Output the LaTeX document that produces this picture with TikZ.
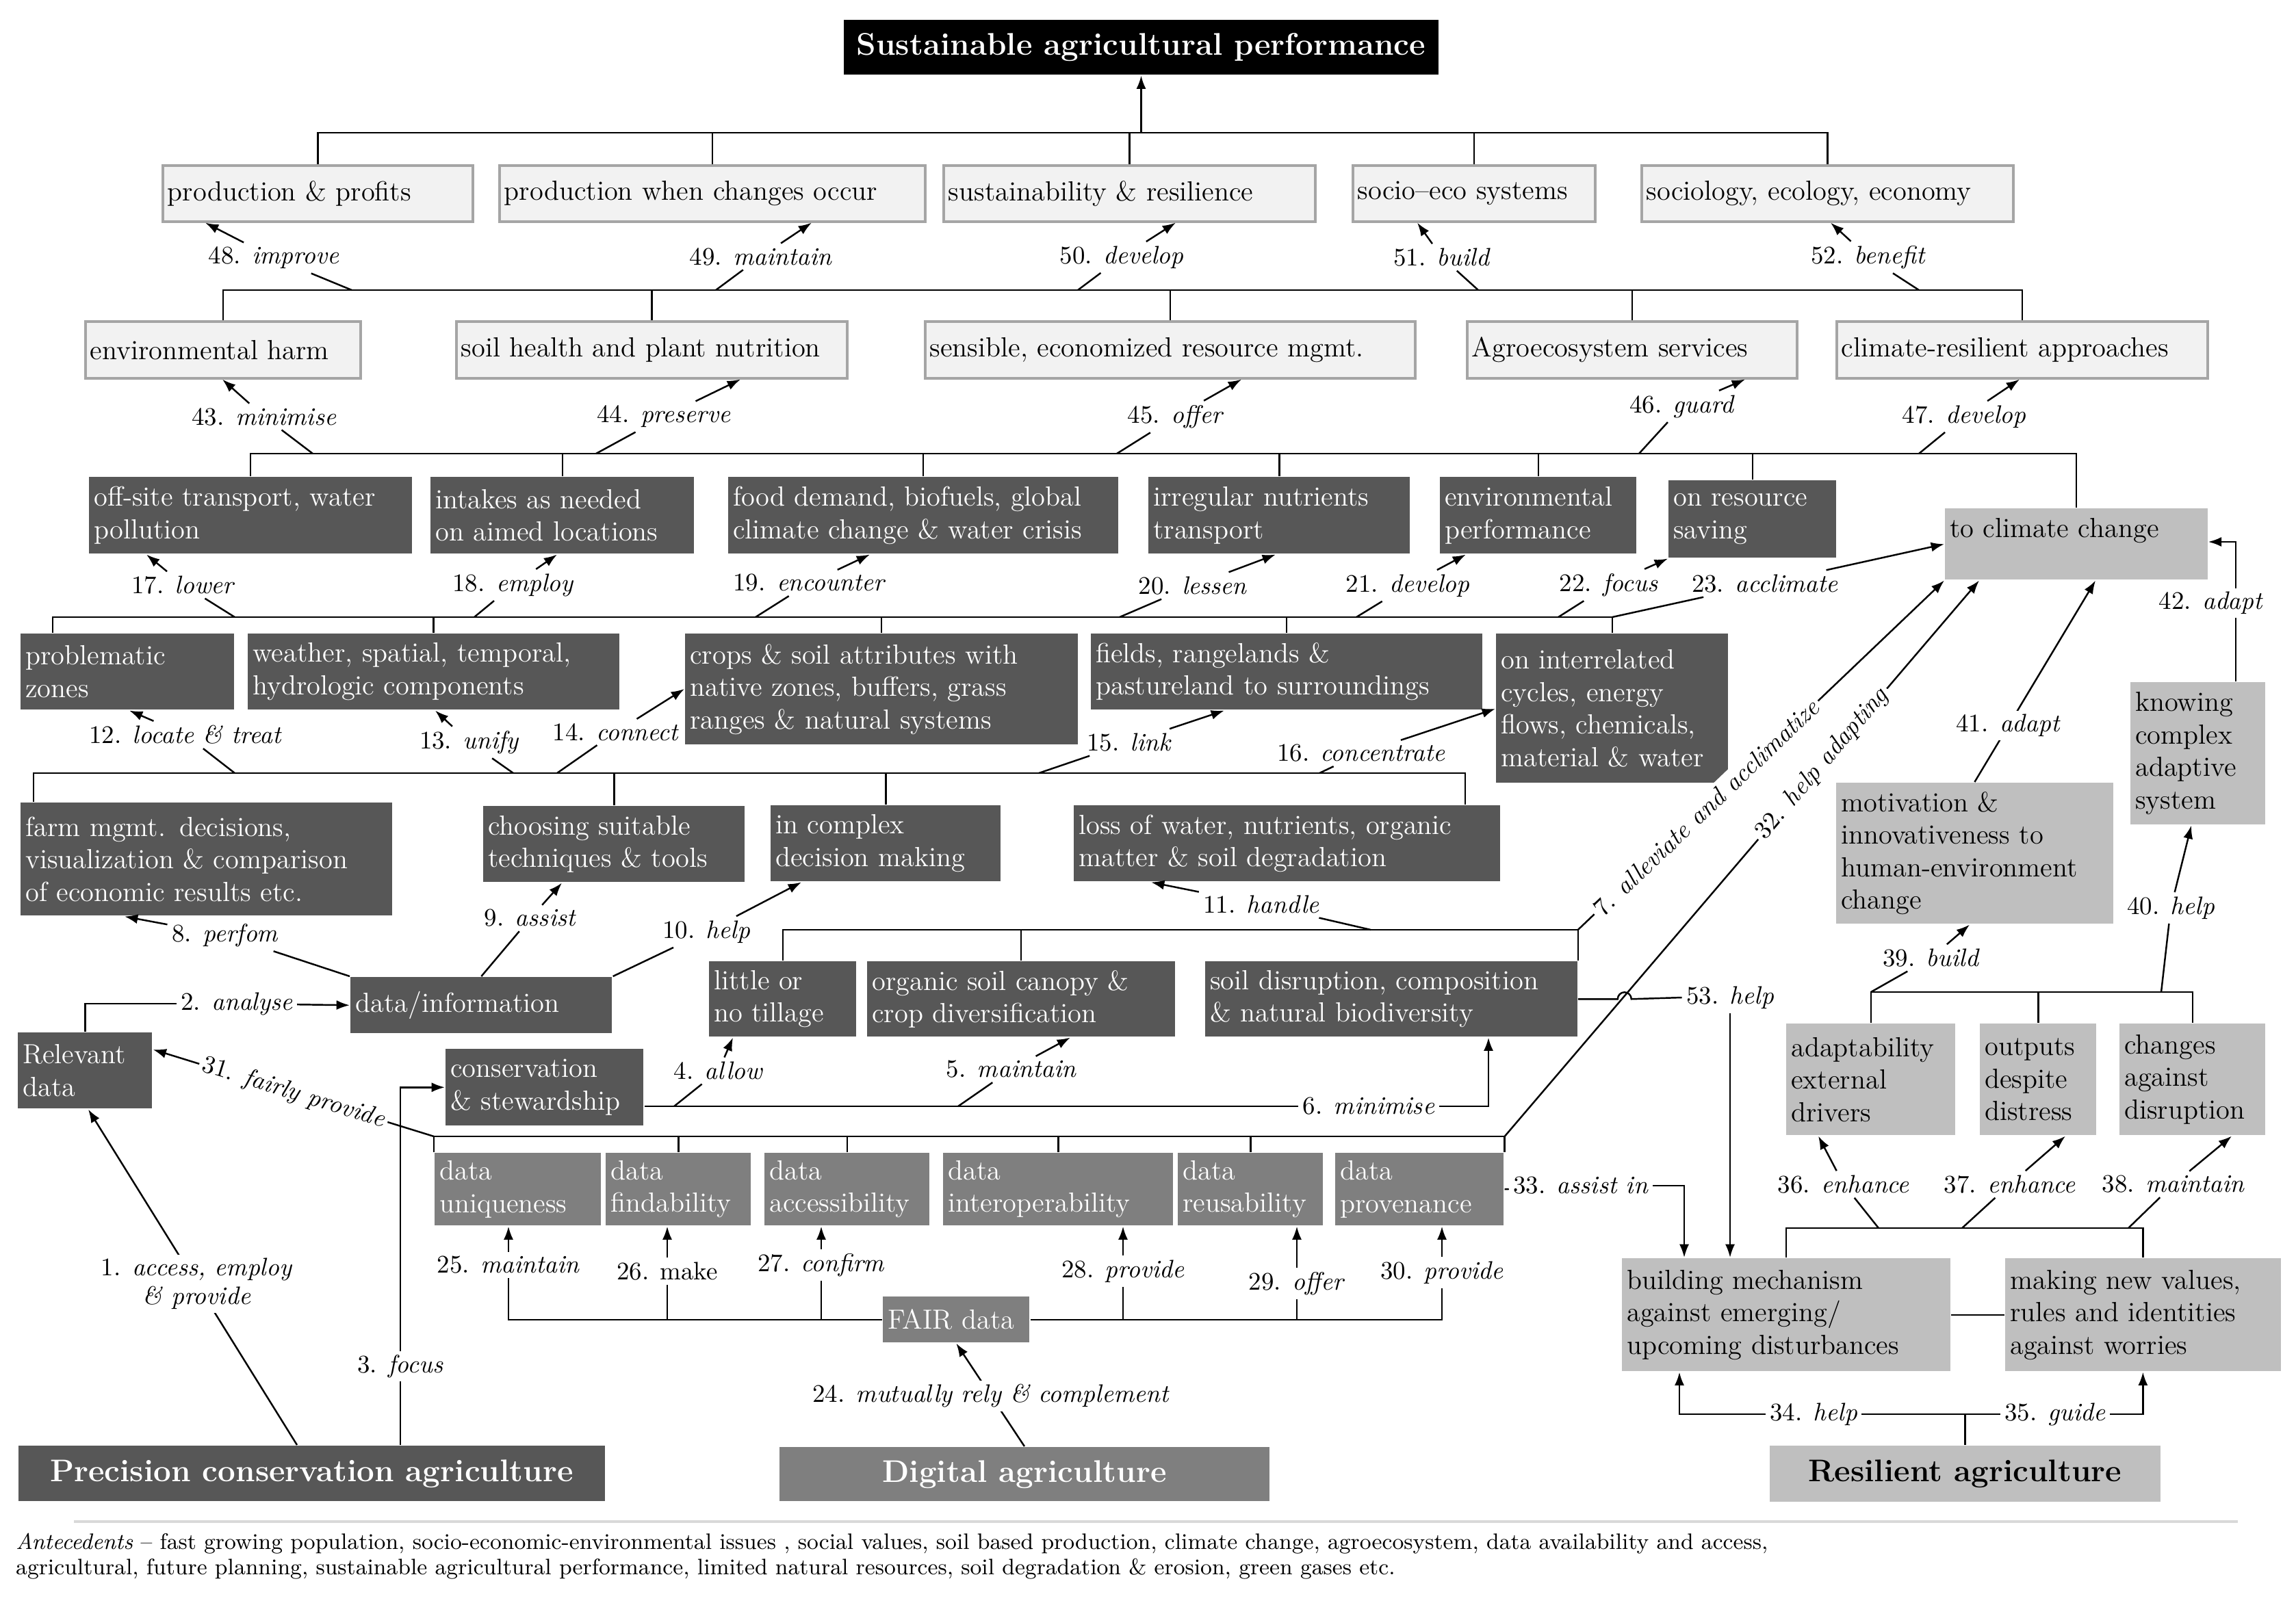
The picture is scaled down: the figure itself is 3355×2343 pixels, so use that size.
\documentclass[tikz,border=0pt]{standalone}
\usetikzlibrary{arrows.meta}
\definecolor{boxdk}{RGB}{87,87,87}
\definecolor{boxmd}{RGB}{127,127,127}
\definecolor{boxgr}{RGB}{191,191,191}
\definecolor{boxlt}{RGB}{242,242,242}
\definecolor{boxedge}{RGB}{165,165,165}
\begin{document}
\begin{tikzpicture}[x=0.01cm, y=-0.01cm, line width=0.7pt,
	bx/.style={rectangle, anchor=north west, align=left, inner xsep=0.07cm, inner ysep=0pt, font=\fontsize{11.5}{13.5}\selectfont},
	lt/.style={bx, fill=boxlt, draw=boxedge, line width=1pt},
	dk/.style={bx, fill=boxdk, text=white},
	md/.style={bx, fill=boxmd, text=white},
	gr/.style={bx, fill=boxgr},
	big/.style={anchor=north west, inner sep=0pt, align=center, font=\fontsize{13}{15}\selectfont\bfseries},
	lbl/.style={inner sep=1.5pt, font=\fontsize{10.5}{12}\selectfont},
	arr/.style={-{Latex[length=5.5pt,width=4pt]}}]
	\useasboundingbox (0,0) rectangle (3355,2343);
	%bus levels
	\coordinate (yA) at (0,194);
	\coordinate (yB) at (0,424);
	\coordinate (yC) at (0,663);
	\coordinate (yD) at (0,902);
	\coordinate (yE) at (0,1130);
	\coordinate (yF) at (0,1359);
	\coordinate (yH) at (0,1661);
	\coordinate (yI) at (0,1450);
	\coordinate (yJ) at (0,1795);
	\coordinate (yL) at (0,2067);
	%title
	\node[big, fill=black, text=white, minimum width=8.68cm, minimum height=0.8cm] (ttl) at (1232,28) {Sustainable agricultural performance};
	%row 1
	\node[lt, text width=4.39cm, minimum height=0.82cm] (pp) at (236,240) {production \& profits};
	\node[lt, text width=6.08cm, minimum height=0.82cm] (pw) at (728,240) {production when changes occur};
	\node[lt, text width=5.29cm, minimum height=0.82cm] (sr) at (1377,240) {sustainability \& resilience};
	\node[lt, text width=3.40cm, minimum height=0.82cm] (se) at (1975,240) {socio--eco systems};
	\node[lt, text width=5.29cm, minimum height=0.82cm] (sy) at (2397,240) {sociology, ecology, economy};
	%row 2
	\node[lt, text width=3.88cm, minimum height=0.83cm] (eh) at (123,468) {environmental harm};
	\node[lt, text width=5.57cm, minimum height=0.83cm] (sh) at (665,468) {soil health and plant nutrition};
	\node[lt, text width=7.02cm, minimum height=0.83cm] (rm) at (1350,468) {sensible, economized resource mgmt.};
	\node[lt, text width=4.68cm, minimum height=0.83cm] (as) at (2142,468) {Agroecosystem services};
	\node[lt, text width=5.28cm, minimum height=0.83cm] (cr) at (2682,468) {climate-resilient approaches};
	%row 3
	\node[dk, text width=4.57cm, minimum height=1.12cm] (ot) at (129,696) {off-site transport, water\\pollution};
	\node[dk, text width=3.71cm, minimum height=1.12cm] (ia) at (628,696) {intakes as needed\\on aimed locations};
	\node[dk, text width=5.55cm, minimum height=1.12cm] (fd) at (1063,696) {food demand, biofuels, global\\climate change \& water crisis};
	\node[dk, text width=3.68cm, minimum height=1.12cm] (ir) at (1677,696) {irregular nutrients\\transport};
	\node[dk, text width=2.73cm, minimum height=1.12cm] (ep) at (2103,696) {environmental\\performance};
	\node[dk, text width=2.31cm, minimum height=1.13cm] (rs) at (2437,701) {on resource\\saving};
	\node[gr, text width=3.69cm, minimum height=1.04cm] (tcc) at (2841,742) {to climate change\\~};
	%row 4
	\node[dk, text width=2.98cm, minimum height=1.11cm] (pz) at (29,925) {problematic\\zones};
	\node[dk, text width=5.28cm, minimum height=1.11cm] (ws) at (361,925) {weather, spatial, temporal,\\hydrologic components};
	\node[dk, text width=5.59cm, minimum height=1.62cm] (cr4) at (1000,925) {crops \& soil attributes with\\native zones, buffers, grass\\ranges \& natural systems};
	\node[dk, text width=5.57cm, minimum height=1.11cm] (fr) at (1593,925) {fields, rangelands \&\\pastureland to surroundings};
	\node[dk, text width=3.25cm, minimum height=2.18cm] (oi) at (2185,925) {on interrelated\\cycles, energy\\flows, chemicals,\\material \& water};
	%row 5
	\node[dk, text width=5.28cm, minimum height=1.65cm] (fm) at (29,1172) {farm mgmt. decisions,\\visualization \& comparison\\of economic results etc.};
	\node[dk, text width=3.68cm, minimum height=1.11cm] (ct) at (705,1177) {choosing suitable\\techniques \& tools};
	\node[dk, text width=3.22cm, minimum height=1.11cm] (dm) at (1125,1176) {in complex\\decision making};
	\node[dk, text width=6.08cm, minimum height=1.11cm] (lw) at (1568,1176) {loss of water, nutrients, organic\\matter \& soil degradation};
	%row 6
	\node[dk, text width=3.68cm, minimum height=0.82cm] (di) at (511,1427) {data/information};
	\node[dk, text width=2.01cm, minimum height=1.10cm] (nt) at (1035,1404) {little or\\no tillage};
	\node[dk, text width=4.35cm, minimum height=1.10cm] (oc) at (1266,1404) {organic soil canopy \&\\crop diversification};
	\node[dk, text width=5.29cm, minimum height=1.10cm] (sd) at (1760,1404) {soil disruption, composition\\\& natural biodiversity};
	\node[dk, text width=1.82cm, minimum height=1.11cm] (rd) at (25,1508) {Relevant\\data};
	\node[dk, text width=2.75cm, minimum height=1.12cm] (cs) at (650,1532) {conservation\\\& stewardship};
	%row 7
	\node[md, text width=2.29cm, minimum height=1.06cm] (du) at (634,1684) {data\\uniqueness};
	\node[md, text width=1.98cm, minimum height=1.06cm] (df) at (884,1684) {data\\findability};
	\node[md, text width=2.27cm, minimum height=1.06cm] (da) at (1116,1684) {data\\accessibility};
	\node[md, text width=3.22cm, minimum height=1.06cm] (dio) at (1377,1684) {data\\interoperability};
	\node[md, text width=1.98cm, minimum height=1.06cm] (dr) at (1720,1684) {data\\reusability};
	\node[md, text width=2.32cm, minimum height=1.06cm] (dp) at (1950,1684) {data\\provenance};
	\node[md, text width=2.00cm, minimum height=0.67cm] (fair) at (1289,1894) {FAIR data};
	%resilience side
	\node[gr, text width=1.83cm, minimum height=2.08cm] (ks) at (3112,996) {knowing\\complex\\adaptive\\system};
	\node[gr, text width=3.90cm, minimum height=2.06cm] (mh) at (2682,1143) {motivation \&\\innovativeness to\\human-environment\\change};
	\node[gr, text width=2.33cm, minimum height=1.63cm] (ad) at (2609,1495) {adaptability\\external\\drivers};
	\node[gr, text width=1.56cm, minimum height=1.63cm] (od) at (2892,1495) {outputs\\despite\\distress};
	\node[gr, text width=1.99cm, minimum height=1.63cm] (ch) at (3096,1495) {changes\\against\\disruption};
	\node[gr, text width=4.65cm, minimum height=1.65cm] (bm) at (2369,1838) {building mechanism\\against emerging/\\upcoming disturbances};
	\node[gr, text width=3.88cm, minimum height=1.65cm] (mk) at (2929,1838) {making new values,\\rules and identities\\against worries};
	%bottom
	\node[big, fill=boxdk, text=white, minimum width=8.56cm, minimum height=0.81cm] (pca) at (26,2112) {Precision conservation agriculture};
	\node[big, fill=boxmd, text=white, minimum width=7.15cm, minimum height=0.79cm] (dag) at (1138,2114) {Digital agriculture};
	\node[big, fill=boxgr, minimum width=5.70cm, minimum height=0.82cm] (ra) at (2585,2112) {Resilient agriculture};
	%labels
	\node[lbl] (l2) at (346,1467) {2. \textit{analyse}};
	\node[lbl] (l4) at (1050,1565) {4. \textit{allow}};
	\node[lbl] (l5) at (1478,1563) {5. \textit{maintain}};
	\node[lbl] (l6) at (2000,1617) {6. \textit{minimise}};
	\node[lbl] (l8) at (329,1367) {8. \textit{perfom}};
	\node[lbl] (l9) at (775,1342) {9. \textit{assist}};
	\node[lbl] (l10) at (1032,1362) {10. \textit{help}};
	\node[lbl] (l11) at (1843,1322) {11. \textit{handle}};
	\node[lbl] (l12) at (271,1074) {12. \textit{locate \& treat}};
	\node[lbl] (l13) at (686,1085) {13. \textit{unify}};
	\node[lbl] (l14) at (900,1070) {14. \textit{connect}};
	\node[lbl] (l15) at (1650,1085) {15. \textit{link}};
	\node[lbl] (l16) at (1989,1101) {16. \textit{concentrate}};
	\node[lbl] (l17) at (268,855) {17. \textit{lower}};
	\node[lbl] (l18) at (750,855) {18. \textit{employ}};
	\node[lbl] (l19) at (1183,852) {19. \textit{encounter}};
	\node[lbl] (l20) at (1743,856) {20. \textit{lessen}};
	\node[lbl] (l21) at (2057,856) {21. \textit{develop}};
	\node[lbl] (l22) at (2351,855) {22. \textit{focus}};
	\node[lbl] (l23) at (2579,853) {23. \textit{acclimate}};
	\node[lbl] (l25) at (743,1849) {25. \textit{maintain}};
	\node[lbl] (l26) at (975,1858) {26. make};
	\node[lbl] (l27) at (1200,1849) {27. \textit{confirm}};
	\node[lbl] (l28) at (1641,1858) {28. \textit{provide}};
	\node[lbl] (l29) at (1895,1876) {29. \textit{offer}};
	\node[lbl] (l30) at (2107,1860) {30. \textit{provide}};
	\node[lbl] (l33) at (2310,1733) {33. \textit{assist in}};
	\node[lbl] (l34) at (2650,2067) {34. \textit{help}};
	\node[lbl] (l35) at (3003,2067) {35. \textit{guide}};
	\node[lbl] (l36) at (2694,1731) {36. \textit{enhance}};
	\node[lbl] (l37) at (2937,1731) {37. \textit{enhance}};
	\node[lbl] (l38) at (3176,1731) {38. \textit{maintain}};
	\node[lbl] (l39) at (2822,1400) {39. \textit{build}};
	\node[lbl] (l40) at (3172,1327) {40. \textit{help}};
	\node[lbl] (l43) at (386,609) {43. \textit{minimise}};
	\node[lbl] (l44) at (970,609) {44. \textit{preserve}};
	\node[lbl] (l45) at (1718,609) {45. \textit{offer}};
	\node[lbl] (l46) at (2458,594) {46. \textit{guard}};
	\node[lbl] (l47) at (2870,609) {47. \textit{develop}};
	\node[lbl] (l48) at (400,377) {48. \textit{improve}};
	\node[lbl] (l49) at (1112,375) {49. \textit{maintain}};
	\node[lbl] (l50) at (1639,376) {50. \textit{develop}};
	\node[lbl] (l51) at (2107,376) {51. \textit{build}};
	\node[lbl] (l52) at (2730,376) {52. \textit{benefit}};
	\node[lbl] (l53) at (2528,1458) {53. \textit{help}};
	%buses
	\draw (pp.north) |- (sy.north |- yA) -- (sy.north);
	\foreach \n in {pw,sr,se} \draw (\n.north) -- (\n.north |- yA);
	\draw[arr] (ttl.south |- yA) -- (ttl.south);
	\draw (eh.north) |- (cr.north |- yB) -- (cr.north);
	\foreach \n in {sh,rm,as} \draw (\n.north) -- (\n.north |- yB);
	\draw (ot.north) |- (tcc.north |- yC) -- (tcc.north);
	\foreach \n in {ia,fd,ir,ep,rs} \draw (\n.north) -- (\n.north |- yC);
	\draw (pz.north -| 77,0) |- (oi.north |- yD) -- (oi.north);
	\foreach \n in {ws,cr4,fr} \draw (\n.north) -- (\n.north |- yD);
	\draw (fm.north -| 49,0) |- (yE -| 2141,0) -- (lw.north -| 2141,0);
	\foreach \n in {ct,dm} \draw (\n.north) -- (\n.north |- yE);
	\draw (nt.north) |- (sd.north east |- yF) -- (sd.north east);
	\draw (oc.north) -- (oc.north |- yF);
	\draw (du.north west) |- (dp.north east |- yH) -- (dp.north east);
	\foreach \n in {df,da,dio,dr} \draw (\n.north) -- (\n.north |- yH);
	\draw (l25) |- (fair);
	\draw (l30) |- (fair);
	\foreach \n in {l26,l27,l28,l29} \draw (\n) -- (\n |- fair);
	\foreach \l/\b in {l25/du,l26/df,l27/da,l28/dio,l29/dr,l30/dp} \draw[arr] (\l) -- (\l |- \b.south);
	\draw (ad.north) |- (ch.north |- yI) -- (ch.north);
	\draw (od.north) -- (od.north |- yI);
	\draw (bm.north) |- (mk.north |- yJ) -- (mk.north);
	\draw (bm) -- (mk);
	%48-52
	\draw (yB -| 514,0) -- (l48); \draw[arr] (l48) -- (pp.south -| 300,0);
	\draw (yB -| 1046,0) -- (l49); \draw[arr] (l49) -- (pw.south -| 1186,0);
	\draw (yB -| 1575,0) -- (l50); \draw[arr] (l50) -- (sr.south -| 1718,0);
	\draw (yB -| 2160,0) -- (l51); \draw[arr] (l51) -- (se.south -| 2071,0);
	\draw (yB -| 2804,0) -- (l52); \draw[arr] (l52) -- (sy.south -| 2675,0);
	%43-47
	\draw (yC -| 457,0) -- (l43); \draw[arr] (l43) -- (eh.south -| 325,0);
	\draw (yC -| 871,0) -- (l44); \draw[arr] (l44) -- (sh.south -| 1082,0);
	\draw (yC -| 1632,0) -- (l45); \draw[arr] (l45) -- (rm.south -| 1814,0);
	\draw (yC -| 2395,0) -- (l46); \draw[arr] (l46) -- (as.south -| 2550,0);
	\draw (yC -| 2804,0) -- (l47); \draw[arr] (l47) -- (cr.south -| 2951,0);
	%17-23
	\draw (yD -| 343,0) -- (l17); \draw[arr] (l17) -- (ot.south -| 214,0);
	\draw (yD -| 693,0) -- (l18); \draw[arr] (l18) -- (ia.south -| 814,0);
	\draw (yD -| 1104,0) -- (l19); \draw[arr] (l19) -- (fd.south -| 1271,0);
	\draw (yD -| 1636,0) -- (l20); \draw[arr] (l20) -- (ir.south -| 1864,0);
	\draw (yD -| 1982,0) -- (l21); \draw[arr] (l21) -- (ep.south -| 2142,0);
	\draw (yD -| 2277,0) -- (l22); \draw[arr] (l22) -- (rs.south west);
	\draw (oi.north |- yD) -- (l23); \draw[arr] (l23) -- (tcc.west);
	%12-16
	\draw (yE -| 343,0) -- (l12); \draw[arr] (l12) -- (pz.south -| 189,0);
	\draw (yE -| 750,0) -- (l13); \draw[arr] (l13) -- (ws.south -| 636,0);
	\draw (yE -| 814,0) -- (l14); \draw[arr] (l14) -- (cr4.west |- 0,1007);
	\draw (yE -| 1518,0) -- (l15); \draw[arr] (l15) -- (fr.south -| 1789,0);
	\draw (yE -| 1928,0) -- (l16); \draw[arr] (l16) -- (oi.west |- 0,1036);
	%8-11
	\draw (di.north west) -- (l8); \draw[arr] (l8) -- (fm.south -| 182,0);
	\draw (di.north) -- (l9); \draw[arr] (l9) -- (ct.south -| 821,0);
	\draw (di.north east) -- (l10); \draw[arr] (l10) -- (dm.south -| 1171,0);
	\draw (yF -| 2003,0) -- (l11); \draw[arr] (l11) -- (lw.south -| 1682,0);
	%1-7
	\draw[arr] (pca.north -| 434,0) -- node[lbl, fill=white, pos=0.48, align=center] {1. \textit{access, employ}\\\textit{\& provide}} (rd.south -| 129,0);
	\draw (rd.north) |- (l2); \draw[arr] (l2) -- (di.west);
	\draw[arr] (pca.north -| 585,0) |- node[lbl, fill=white, pos=0.11] {3. \textit{focus}} (cs.west);
	\draw (l6 -| 985,0) -- (l4); \draw[arr] (l4) -- (nt.south -| 1071,0);
	\draw (l6 -| 1400,0) -- (l5); \draw[arr] (l5) -- (oc.south -| 1564,0);
	\draw (l6 -| cs.east) -- (l6); \draw[arr] (l6) -| (sd.south -| 2175,0);
	\draw[arr] (sd.north east |- yF) -- node[lbl, sloped, fill=white, pos=0.35] {7. \textit{alleviate and acclimatize}} (tcc.south west);
	%24-33
	\draw[arr] (dag.north) -- node[lbl, fill=white, pos=0.49] {24. \textit{mutually rely \& complement}} (fair.south);
	\draw[arr] (du.north west |- yH) -- node[lbl, sloped, fill=white, pos=0.5] {31. \textit{fairly provide}} (rd.east |- 0,1534);
	\draw[arr] (dp.north east |- yH) -- node[lbl, sloped, fill=white, pos=0.67] {32. \textit{help adapting}} (tcc.south -| 2892,0);
	\draw (dp.east) -- (l33); \draw[arr] (l33) -| (bm.north -| 2461,0);
	%34-42
	\draw (ra.north) -- (ra.north |- yL);
	\draw (ra.north |- yL) -- (l34); \draw[arr] (l34) -| (bm.south -| 2454,0);
	\draw (ra.north |- yL) -- (l35); \draw[arr] (l35) -| (mk.south);
	\draw (yJ -| 2745,0) -- (l36); \draw[arr] (l36) -- (ad.south -| 2657,0);
	\draw (yJ -| 2867,0) -- (l37); \draw[arr] (l37) -- (od.south -| 3018,0);
	\draw (yJ -| 3110,0) -- (l38); \draw[arr] (l38) -- (ch.south -| 3261,0);
	\draw (ad.north |- yI) -- (l39); \draw[arr] (l39) -- (mh.south -| 2878,0);
	\draw (yI -| 3158,0) -- (l40); \draw[arr] (l40) -- (ks.south -| 3202,0);
	\draw[arr] (mh.north) -- node[lbl, fill=white, pos=0.28] {41. \textit{adapt}} (tcc.south -| 3062,0);
	\draw[arr] (ks.north -| 3267,0) |- node[lbl, fill=white, pos=0.28, xshift=-0.36cm] {42. \textit{adapt}} (tcc.east |- 0,792);
	%53
	\draw (sd.east) -- ++(58,0) arc[start angle=180, end angle=360, radius=10] -- (l53.west);
	\draw[arr] (l53) -- (l53 |- bm.north);
	%antecedents
	\draw[black!15, line width=1pt] (108,2224) -- (3270,2224);
	\node[anchor=north west, align=left, inner sep=0pt, font=\fontsize{9.3}{10.6}\selectfont] (ant) at (22,2240) {\textit{Antecedents} -- fast growing population, socio-economic-environmental issues , social values, soil based production, climate change, agroecosystem, data availability and access,\\agricultural, future planning, sustainable agricultural performance, limited natural resources, soil degradation \& erosion, green gases etc.};
\end{tikzpicture}
\end{document}
